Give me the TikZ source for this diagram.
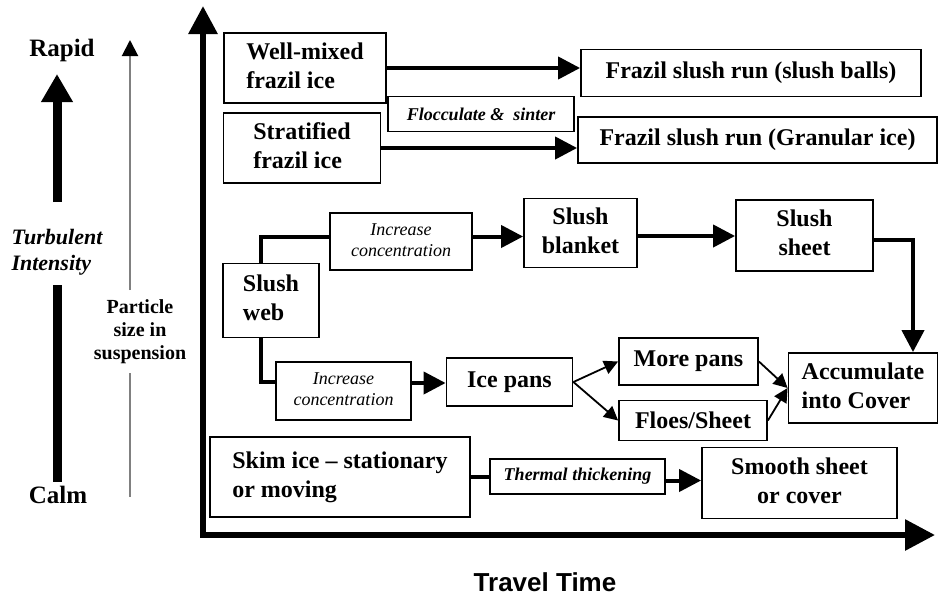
\documentclass[tikz,border=0pt]{standalone}
\usepackage{fontspec}
\setmainfont{Liberation Serif}
\newfontfamily\axisfont{Liberation Sans}
\usepackage{tikz}
\usetikzlibrary{arrows,arrows.meta}

\begin{document}
\begin{tikzpicture}[x=0.5pt,y=-0.5pt,
        stage/.style={rectangle, draw, line width=0.9pt, inner sep=0pt, font=\fontsize{12}{14.5}\selectfont\bfseries},
        process/.style={rectangle, draw, line width=0.9pt, inner sep=0pt, font=\fontsize{9}{10.5}\selectfont\itshape},
        flow/.style={line width=2pt, -{Triangle[length=11pt,width=11pt]}},
        feed/.style={line width=2pt},
        branch/.style={line width=0.9pt, -{Triangle[length=7pt,width=7pt]}},
        axis/.style={line width=3pt, line join=miter}]
        \useasboundingbox (0,0) rectangle (938,595);

        % left hand scales
        \node[font=\fontsize{12.5}{15}\selectfont\bfseries] (rapid) at (62,50) {Rapid};
        \node[font=\fontsize{12.5}{15}\selectfont\bfseries] (calm) at (58,495) {Calm};
        \node[font=\fontsize{11}{13}\selectfont\bfseries\itshape] (turbulent) at (57,252) {
                                                           \begin{tabular}{l}
                                                            Turbulent \\
                                                            Intensity
                                                           \end{tabular}
                                                          };
        \node[font=\fontsize{10}{11.5}\selectfont\bfseries] (particle) at (140,332) {
                                                           \begin{tabular}{c}
                                                            Particle \\
                                                            size in \\
                                                            suspension
                                                           \end{tabular}
                                                          };
        \coordinate (tiTop) at (57,74);
        \coordinate (tiMid) at (57,202);
        \coordinate (tiLow) at (57,285);
        \coordinate (tiBot) at (57,482);
        \draw[line width=4.5pt, -{Triangle[length=14pt,width=15pt]}] (tiMid) -- (tiTop);
        \draw[line width=4.5pt] (tiLow) -- (tiBot);
        \coordinate (psTop) at (130,40);
        \coordinate (psMid) at (130,290);
        \coordinate (psLow) at (130,373);
        \coordinate (psBot) at (130,497);
        \draw[gray, line width=1pt, -{Triangle[length=8pt,width=8pt,color=black]}] (psMid) -- (psTop);
        \draw[gray, line width=1pt] (psLow) -- (psBot);

        % axes
        \coordinate (axisTop) at (203,6);
        \coordinate (origin) at (203,535);
        \coordinate (timeEnd) at (935,535);
        \draw[axis, {Triangle[length=14pt,width=14pt]}-{Triangle[length=15pt,width=15pt]}] (axisTop) -- (origin) -- (timeEnd);
        \node[font=\axisfont\fontsize{13}{15}\selectfont\bfseries] (traveltime) at (545,582) {Travel Time};

        % frazil ice
        \node[stage, minimum width=81pt, minimum height=35pt] (wellmixed) at (305,68) {
                                                           \begin{tabular}{l}
                                                            Well-mixed \\
                                                            frazil ice
                                                           \end{tabular}
                                                          };
        \node[stage, minimum width=78.5pt, minimum height=35pt] (stratified) at (302,148) {
                                                           \begin{tabular}{l}
                                                            Stratified \\
                                                            frazil ice
                                                           \end{tabular}
                                                          };
        \node[process, font=\fontsize{9}{10.5}\selectfont\bfseries\itshape, minimum width=93pt, minimum height=17.5pt] (flocculate) at (481,114) {Flocculate \&\ \ sinter};
        \node[stage, minimum width=170pt, minimum height=23.5pt] (slushballs) at (751,73) {Frazil slush run (slush balls)};
        \node[stage, minimum width=179.5pt, minimum height=23pt] (granular) at (757.5,140) {Frazil slush run (Granular ice)};
        \draw[flow] (wellmixed.east) -- (wellmixed.east -| slushballs.west);
        \draw[flow] (stratified.east) -- (stratified.east -| granular.west);

        % slush web
        \node[stage, minimum width=48pt, minimum height=37pt] (slushweb) at (271,300.5) {
                                                           \begin{tabular}{l}
                                                            Slush \\
                                                            web
                                                           \end{tabular}
                                                          };
        \node[process, minimum width=71pt, minimum height=28.5pt] (concup) at (401,241.5) {
                                                           \begin{tabular}{c}
                                                            Increase \\
                                                            concentration
                                                           \end{tabular}
                                                          };
        \node[stage, minimum width=56.5pt, minimum height=34.5pt] (blanket) at (580.5,233) {
                                                           \begin{tabular}{c}
                                                            Slush \\
                                                            blanket
                                                           \end{tabular}
                                                          };
        \node[stage, minimum width=68.5pt, minimum height=35.5pt] (sheet) at (804.5,235.5) {
                                                           \begin{tabular}{c}
                                                            Slush \\
                                                            sheet
                                                           \end{tabular}
                                                          };
        \node[process, minimum width=67.5pt, minimum height=29pt] (concdown) at (343.5,391) {
                                                           \begin{tabular}{c}
                                                            Increase \\
                                                            concentration
                                                           \end{tabular}
                                                          };
        \node[stage, minimum width=63pt, minimum height=24pt] (icepans) at (509.5,382) {Ice pans};
        \node[stage, minimum width=69.5pt, minimum height=23.5pt] (morepans) at (688.5,361.5) {More pans};
        \node[stage, minimum width=74pt, minimum height=20pt] (floes) at (693,420.5) {Floes/Sheet};
        \node[stage, minimum width=74.5pt, minimum height=35pt] (accumulate) at (863,388) {
                                                           \begin{tabular}{l}
                                                            Accumulate \\
                                                            into Cover
                                                           \end{tabular}
                                                          };
        \draw[feed] ([xshift=-5pt]slushweb.north) |- ([yshift=2.5pt]concup.west);
        \draw[flow] ([yshift=2.5pt]concup.east) -- ([yshift=2.5pt]concup.east -| blanket.west);
        \draw[flow] ([yshift=-1.5pt]blanket.east) -- ([yshift=-1.5pt]blanket.east -| sheet.west);
        \draw[flow] ([yshift=-2pt]sheet.east) -| ([xshift=25pt]accumulate.north);
        \draw[feed] ([xshift=-5pt]slushweb.south) |- ([yshift=4.5pt]concdown.west);
        \draw[flow] ([yshift=4pt]concdown.east) -- ([yshift=4pt]concdown.east -| icepans.west);
        \draw[branch] (icepans.east) -- (morepans.west);
        \draw[branch] (icepans.east) -- (floes.west);
        \draw[branch] (morepans.east) -- (accumulate.west);
        \draw[branch] (floes.east) -- (accumulate.west);

        % skim ice
        \node[stage, minimum width=130pt, minimum height=40pt] (skim) at (340,477) {
                                                           \begin{tabular}{l}
                                                            Skim ice -- stationary \\
                                                            or moving
                                                           \end{tabular}
                                                          };
        \node[process, font=\fontsize{9}{10.5}\selectfont\bfseries\itshape, minimum width=87.5pt, minimum height=17.5pt] (thermal) at (577.5,476.5) {Thermal thickening};
        \node[stage, minimum width=97.5pt, minimum height=35.5pt] (smooth) at (799.5,483) {
                                                           \begin{tabular}{c}
                                                            Smooth sheet \\
                                                            or cover
                                                           \end{tabular}
                                                          };
        \draw[feed] (skim.east) -- (skim.east -| thermal.west);
        \draw[flow] ([yshift=-2pt]thermal.east) -- ([yshift=-2pt]thermal.east -| smooth.west);
      \end{tikzpicture}
\end{document}
